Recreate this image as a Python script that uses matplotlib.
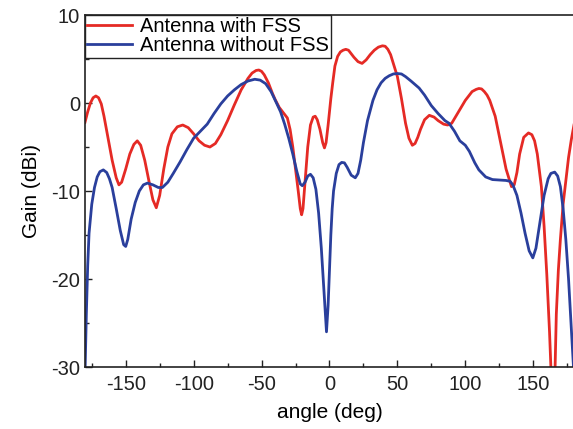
import matplotlib

matplotlib.use("Agg")
import matplotlib.pyplot as plt
from matplotlib.ticker import MultipleLocator

plt.rcParams["font.family"] = ["Liberation Sans", "DejaVu Sans"]
plt.rcParams["axes.unicode_minus"] = False

# gain of the antenna with the FSS
with_fss_angle = [
    -180, -178, -176, -174, -172, -170, -168, -166, -163, -160, -157, -155,
    -153, -150, -147, -144, -141.5, -139, -136, -133, -130, -127.5, -125,
    -122, -119, -116, -112, -108, -104, -100, -96, -92, -88, -84, -80, -75,
    -70, -65, -60, -57, -54, -52, -50, -48, -45, -42, -40, -37, -34, -31,
    -29, -27, -25, -23, -21.5, -20.5, -19.5, -18, -16, -14, -12, -10.5, -9,
    -7, -5, -3.7, -2.5, -1, 1, 2.4, 4, 6, 8, 10, 12, 14, 16, 18, 21, 24, 27,
    30, 33, 36, 39, 41, 43, 45, 47, 50, 53, 56, 58.5, 61, 63, 65, 67, 70,
    73.5, 77, 80, 84, 87, 90, 95, 100, 105, 108, 110, 112, 114, 116, 118,
    122, 126, 130, 134, 136, 138, 140, 143, 146.5, 149, 151, 153, 156, 158,
    160, 162, 163.5, 164.6, 165.8, 167, 168.5, 170, 172, 174, 176, 178, 180,
]
with_fss_gain = [
    -2.2, -1.0, 0.0, 0.6, 0.8, 0.6, -0.1, -1.5, -4.0, -6.5, -8.5, -9.3,
    -9.0, -7.5, -5.8, -4.7, -4.3, -4.8, -6.5, -8.8, -11.0, -11.9, -10.5,
    -7.5, -5.0, -3.5, -2.7, -2.5, -2.8, -3.5, -4.3, -4.8, -5.0, -4.6, -3.6, -2.0,
    -0.2, 1.5, 2.8, 3.4, 3.7, 3.75, 3.6, 3.2, 2.3, 1.1, 0.4, -0.5, -1.1, -1.7,
    -3.0, -5.0, -7.5, -10.0, -12.0, -12.7, -12.0, -9.0, -5.0, -2.5, -1.6, -1.5, -1.9,
    -3.0, -4.5, -5.1, -4.5, -2.5, 0.5, 2.3, 4.2, 5.3, 5.8, 6.0, 6.1, 6.0, 5.6, 5.2, 4.7, 4.5, 4.9,
    5.5, 6.0, 6.35, 6.5, 6.45, 6.1, 5.5, 4.5, 3.0, 0.5, -2.3, -4.0, -4.8, -4.6, -3.9, -3.0, -1.9,
    -1.4, -1.6, -2.0, -2.4, -2.5, -2.3, -1.0, 0.3, 1.3, 1.55, 1.65, 1.6, 1.3, 0.9, 0.3,
    -1.5, -4.5, -7.5, -9.5, -9.3, -7.9, -5.8, -3.9, -3.4, -3.6, -4.3, -5.8, -9.5, -14.0,
    -19.5, -26.0, -32.0, -40.0, -32.0, -24.0, -19.0, -15.5, -11.5, -8.8, -6.2, -4.2, -2.5,
]

# gain of the antenna without the FSS
without_fss_angle = [
    -180, -179, -178, -177, -175, -173, -171, -169, -166.5, -164, -162, -160,
    -157, -154, -151.5, -150, -148.5, -146, -143, -140, -137, -134, -130,
    -126, -123, -119, -115, -110, -105, -100, -95, -90, -85, -80, -75, -70,
    -65, -60, -55, -51, -47, -43, -39, -36, -33, -30, -27, -24, -21.5, -20,
    -18, -16, -14, -12, -10, -8, -6, -4, -2.2, -1, 0, 1, 2, 3, 5, 7, 9, 11,
    13, 16, 19, 21, 23, 25, 28, 32, 35, 38, 41, 44, 47, 50, 53, 56, 60, 66,
    70, 75, 80, 85, 88, 92, 96, 100, 103, 107, 110, 115, 120, 125, 130, 133,
    135, 138, 141, 144, 147, 149.7, 152, 155, 158, 161, 163, 165.8, 168, 170,
    172, 174, 176, 178, 180,
]
without_fss_gain = [
    -31.0, -24.0, -18.5, -14.8, -11.5, -9.6, -8.4, -7.8, -7.6, -7.9, -8.6, -9.6,
    -12.0, -14.5, -16.1, -16.3, -15.5, -13.2, -11.3, -10.0, -9.3, -9.1, -9.3,
    -9.6, -9.6, -9.0, -8.0, -6.7, -5.3, -4.0, -3.2, -2.4, -1.2, -0.1, 0.8, 1.5,
    2.1, 2.5, 2.7, 2.6, 2.2, 1.3, 0.0, -1.0, -2.4, -4.0, -5.8, -7.8, -9.2, -9.4,
    -9.0, -8.3, -8.1, -8.5, -9.8, -12.5, -16.5, -21.5, -26.0, -23.0, -19.0, -15.0, -12.0, -10.0, -8.0, -7.0, -6.75, -6.8,
    -7.3, -8.2, -8.5, -8.0, -6.5, -4.5, -2.0, 0.3, 1.5, 2.3, 2.8, 3.1, 3.3, 3.35, 3.3, 3.0, 2.5, 1.7,
    0.9, -0.3, -1.2, -2.0, -2.3, -3.2, -4.3, -4.8, -5.5, -6.8, -7.6, -8.4, -8.7, -8.75, -8.8, -8.9,
    -9.3, -10.5, -12.5, -14.8, -16.8, -17.6, -16.5, -13.5, -10.5, -8.6, -8.0, -7.85, -8.3, -9.5,
    -12.0, -15.5, -20.0, -25.5, -31.0,
]

fig = plt.figure(figsize=(5.73, 4.29), dpi=100)
ax = fig.add_axes([0.1483, 0.1445, 0.8534, 0.8205])

ax.plot(with_fss_angle, with_fss_gain, color="#e52a25", lw=2.0, label="Antenna with FSS")
ax.plot(without_fss_angle, without_fss_gain, color="#2a3f9c", lw=2.0, label="Antenna without FSS")

ax.set_xlim(-180, 180)
ax.set_ylim(-30, 10)
ax.xaxis.set_major_locator(MultipleLocator(50))
ax.xaxis.set_minor_locator(MultipleLocator(25))
ax.yaxis.set_major_locator(MultipleLocator(10))
ax.yaxis.set_minor_locator(MultipleLocator(5))
ax.tick_params(which="both", direction="in", labelsize=14.5, colors="#222222")
ax.tick_params(axis="x", pad=6)
ax.tick_params(which="major", length=5, width=1)
ax.tick_params(which="minor", length=3, width=1)
for side in ax.spines.values():
    side.set_linewidth(1.2)
    side.set_color("#222222")

ax.set_xlabel("angle (deg)", fontsize=15, labelpad=6)
ax.set_ylabel("Gain (dBi)", fontsize=15, labelpad=7)

leg = ax.legend(
    loc="upper left",
    bbox_to_anchor=(0, 1),
    borderaxespad=0,
    fancybox=False,
    edgecolor="#222222",
    framealpha=1,
    fontsize=14.5,
    handlelength=2.2,
    handletextpad=0.4,
    labelspacing=0.0,
    borderpad=0.12,
)
leg.get_frame().set_linewidth(1.0)

fig.savefig("out.png", dpi=100)
